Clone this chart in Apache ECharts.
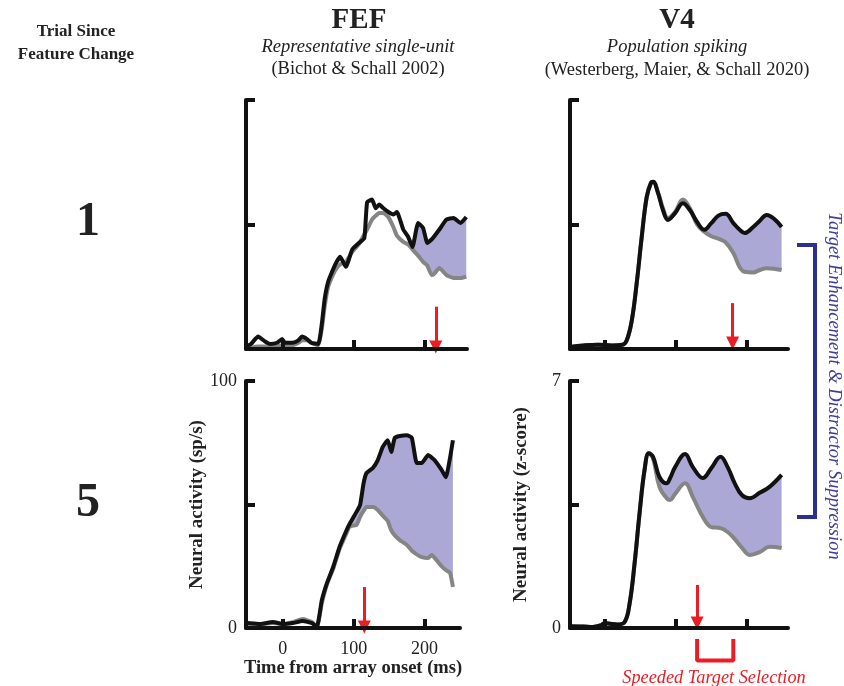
<!DOCTYPE html>
<html>
<head>
<meta charset="utf-8">
<script src="https://cdn.jsdelivr.net/npm/echarts@6/dist/echarts.min.js"></script>
<style>
html, body { margin: 0; padding: 0; background: #fff; }
#chart { width: 844px; height: 686px; }
</style>
</head>
<body>
<div id="chart"></div>
<script>
// FEF, trial 1 (time in ms, activity in sp/s)
const fefTopTime = [-52,-45,-35,-25,-18,-8,-1,3,14,22,27,34,40,50,55,59,64,71,76,81,89,98,107,115,119,126,131,136,142,149,156,161,170,177,183,191,198,204,210,213,221,231,241,251,259];
const fefTopTarget = [1,2,5,3,2,2.5,4,2.5,2.5,3.5,5,4,2.5,2,10,20,27,32,35,37,33,40,42.5,44.5,59,60,56.5,58,56.5,55,54,55,48,45,41,50.6,48.6,42.6,44,45,48,52,52.6,50.6,53];
const fefTopDistractor = [0,0.5,1,1,1,1,1.5,1.5,1.5,2.5,3.5,3.6,2.5,1.5,8,17,25,30,32.5,34,35,39,42,46,48,52,53.5,54.6,54.6,53,49,45.5,43,42,40,37.5,35,33.5,29.7,30,32.5,29.7,28.5,28.5,29];
const fefTopShadeFrom = 177;
const fefTopArrow = [216, 17, 0.8];

// FEF, trial 5
const fefBotTime = [-52,-49,-32,-14,0,14,28,41,48,55,62,71,80,90,94,99,104,109,114,118,127,134,141,148,153,158,165,175,182,189,196,205,210,214,224,230,236,240];
const fefBotTarget = [2,2,1.6,2.4,1.6,2,2.8,2,0.4,11.3,18,24.7,32.8,39.7,42,44.5,47,49.8,58.7,62.7,64.8,68,73.3,76,71.3,77,77.7,78,77,66.8,66.8,70,69,68,64,61,69,76];
const fefBotDistractor = [1.5,1.5,1.6,2,1.6,2.4,3.6,2.4,0.4,10,17.5,24,32,38.5,41,41.5,41.7,45,47.5,49,49,47.8,45.5,43.3,39.5,37.5,35.6,33.6,31.3,29.8,28.7,28.3,29.6,28.5,25,23.5,22.3,16.6];
const fefBotShadeFrom = 90;
const fefBotArrow = [115, 16.6, 0.4];

// V4, trial 1 (z-score)
const v4TopTime = [-49,-30,-10,10,25,31,38,45,52,59,65,68,75,82,89,99,110,120,130,140,150,160,170,181,190,197,209,218,228,240,249];
const v4TopTarget = [0.06,0.1,0.12,0.1,0.12,0.25,0.8,1.86,3.15,4.27,4.67,4.7,4.38,3.9,3.63,3.82,4.1,3.9,3.57,3.35,3.54,3.75,3.8,3.54,3.35,3.26,3.43,3.6,3.77,3.63,3.43];
const v4TopDistractor = [0.06,0.1,0.12,0.1,0.12,0.25,0.8,1.86,3.15,4.27,4.67,4.7,4.4,3.95,3.68,3.85,4.2,3.95,3.5,3.3,3.17,3.1,3.0,2.7,2.3,2.17,2.15,2.22,2.27,2.25,2.22];
const v4TopShadeFrom = 130;
const v4TopArrow = [180, 1.29, 0.17];

// V4, trial 5
const v4BotTime = [-49,-30,-17,-5,0,8,17,28,35,42,49,56,62,68,77,87,92,99,113,124,138,150,163,173,183,193,204,218,232,249];
const v4BotTarget = [0.05,0.04,0.03,0.08,0.14,0.12,0.1,0.17,0.7,1.84,3.26,4.48,4.95,4.85,4.28,4.1,4.25,4.56,4.93,4.56,4.25,4.53,4.85,4.56,4.1,3.77,3.68,3.83,4.0,4.34];
const v4BotDistractor = [0.05,0.04,0.03,0.08,0.14,0.12,0.1,0.17,0.7,1.84,3.26,4.48,4.95,4.8,4.0,3.68,3.63,3.8,4.1,3.71,3.15,2.86,2.83,2.72,2.52,2.28,2.07,2.15,2.3,2.27];
const v4BotShadeFrom = 62;
const v4BotArrow = [130, 1.22, 0.14];

// speeded target selection bracket (ms) and its depth below the axis (z-score)
const speededRange = [130, 181];
const speededDepth = [-0.37, -0.92];

const xTicks = [0, 100, 200];

const serif = "'Liberation Serif', 'DejaVu Serif', serif";
const red = '#ec1c24';
const shadeColor = '#aba8d6';

const chart = echarts.init(document.getElementById('chart'));

function pairs(time, vals) {
	return time.map((t, i) => [t, vals[i]]);
}

function xAxisFor(gi, min, max, labels, name) {
	return {
		type: 'value', gridIndex: gi, min: min, max: max, z: 10,
		axisLine: { onZero: false, lineStyle: { color: '#111', width: 4 } },
		axisTick: { show: true, inside: true, length: 9, customValues: xTicks, lineStyle: { color: '#111', width: 4 } },
		axisLabel: { show: labels, customValues: xTicks, margin: 12, fontFamily: serif, fontSize: 18, color: '#222' },
		splitLine: { show: false },
		name: name, nameLocation: 'middle', nameGap: 30,
		nameTextStyle: { fontFamily: serif, fontWeight: 'bold', fontSize: 18.5, color: '#222' }
	};
}

function yAxisFor(gi, max, labels, name, gap) {
	return {
		type: 'value', gridIndex: gi, min: 0, max: max, interval: max / 2, z: 10,
		axisLine: { show: true, onZero: false, lineStyle: { color: '#111', width: 4 } },
		axisTick: { show: true, inside: true, length: 9, lineStyle: { color: '#111', width: 4 } },
		axisLabel: { show: labels, customValues: [0, max], margin: 9, fontFamily: serif, fontSize: 18, color: '#222' },
		splitLine: { show: false },
		name: name, nameLocation: 'middle', nameGap: gap,
		nameTextStyle: { fontFamily: serif, fontWeight: 'bold', fontSize: 19, color: '#222' }
	};
}

function panelSeries(gi, time, target, distractor, shadeFrom, arrow, smooth) {
	const idx = time.map((t, i) => i).filter(i => time[i] >= shadeFrom);
	return [
		// band between target and distractor curves
		{
			type: 'custom', xAxisIndex: gi, yAxisIndex: gi, silent: true, z: 1,
			data: [[shadeFrom, 0]],
			renderItem: function (params, api) {
				const pts = [];
				idx.forEach(i => pts.push(api.coord([time[i], target[i]])));
				idx.slice().reverse().forEach(i => pts.push(api.coord([time[i], distractor[i]])));
				return { type: 'polygon', shape: { points: pts }, style: { fill: shadeColor } };
			}
		},
		{
			type: 'line', xAxisIndex: gi, yAxisIndex: gi, data: pairs(time, distractor), smooth: smooth,
			symbol: 'none', lineStyle: { color: '#858585', width: 4 }, z: 3
		},
		{
			type: 'line', xAxisIndex: gi, yAxisIndex: gi, data: pairs(time, target), smooth: smooth,
			symbol: 'none', lineStyle: { color: '#111', width: 4 }, z: 4,
			markLine: {
				silent: true, symbol: ['none', 'triangle'], symbolSize: 13,
				label: { show: false },
				lineStyle: { color: red, width: 3, type: 'solid' },
				data: [[{ coord: [arrow[0], arrow[1]] }, { coord: [arrow[0], arrow[2]] }]]
			}
		}
	];
}

const series = [].concat(
	panelSeries(0, fefTopTime, fefTopTarget, fefTopDistractor, fefTopShadeFrom, fefTopArrow, 0.15),
	panelSeries(1, v4TopTime, v4TopTarget, v4TopDistractor, v4TopShadeFrom, v4TopArrow, 0.4),
	panelSeries(2, fefBotTime, fefBotTarget, fefBotDistractor, fefBotShadeFrom, fefBotArrow, 0.15),
	panelSeries(3, v4BotTime, v4BotTarget, v4BotDistractor, v4BotShadeFrom, v4BotArrow, 0.4)
);

// red bracket under the V4 trial-5 axis
series.push({
	type: 'line', xAxisIndex: 3, yAxisIndex: 3, clip: false, symbol: 'none', silent: true, z: 5,
	data: [[speededRange[0], speededDepth[0]], [speededRange[0], speededDepth[1]], [speededRange[1], speededDepth[1]], [speededRange[1], speededDepth[0]]],
	lineStyle: { color: red, width: 4, cap: 'square' }
});

function txt(x, y, text, size, weight, style, color, extra) {
	return Object.assign({
		type: 'text', x: x, y: y, silent: true,
		style: { text: text, fill: color || '#222', font: (style || 'normal') + ' ' + (weight || 'normal') + ' ' + size + 'px ' + serif, textAlign: 'center', textVerticalAlign: 'middle' }
	}, extra || {});
}

const option = {
	animation: false,
	backgroundColor: '#fff',
	grid: [
		{ left: 246, top: 100, width: 221, height: 249, outerBoundsMode: 'none' },
		{ left: 570, top: 100, width: 218, height: 249, outerBoundsMode: 'none' },
		{ left: 246, top: 381, width: 214, height: 247, outerBoundsMode: 'none' },
		{ left: 570, top: 381, width: 218, height: 247, outerBoundsMode: 'none' }
	],
	xAxis: [
		xAxisFor(0, -52, 260, false, ''),
		xAxisFor(1, -49, 258, false, ''),
		xAxisFor(2, -52, 250, true, 'Time from array onset (ms)'),
		xAxisFor(3, -49, 258, false, '')
	],
	yAxis: [
		yAxisFor(0, 100, false, '', 37),
		yAxisFor(1, 7, false, '', 39),
		yAxisFor(2, 100, true, 'Neural activity (sp/s)', 37),
		yAxisFor(3, 7, true, 'Neural activity (z-score)', 39)
	],
	series: series,
	graphic: [
		txt(76, 32, 'Trial Since', 17, 'bold'),
		txt(76, 55, 'Feature Change', 17, 'bold'),
		txt(359, 21, 'FEF', 29, 'bold'),
		txt(358, 47, 'Representative single-unit', 18.5, 'normal', 'italic'),
		txt(358, 69, '(Bichot & Schall 2002)', 18.5),
		txt(677, 21, 'V4', 29, 'bold'),
		txt(677, 47, 'Population spiking', 18.5, 'normal', 'italic'),
		txt(677, 70, '(Westerberg, Maier, & Schall 2020)', 18.5),
		txt(88, 223, '1', 48, 'bold'),
		txt(88, 504, '5', 48, 'bold'),
		txt(714, 678, 'Speeded Target Selection', 18.3, 'normal', 'italic', red),
		txt(834, 386, 'Target Enhancement & Distractor Suppression', 18.5, 'normal', 'italic', '#3d3d9c', { rotation: -Math.PI / 2 }),
		{
			type: 'polyline', silent: true,
			shape: { points: [[797, 245], [815, 245], [815, 517], [797, 517]] },
			style: { stroke: '#2b3090', lineWidth: 4, fill: null }
		}
	]
};

chart.setOption(option);
</script>
</body>
</html>
